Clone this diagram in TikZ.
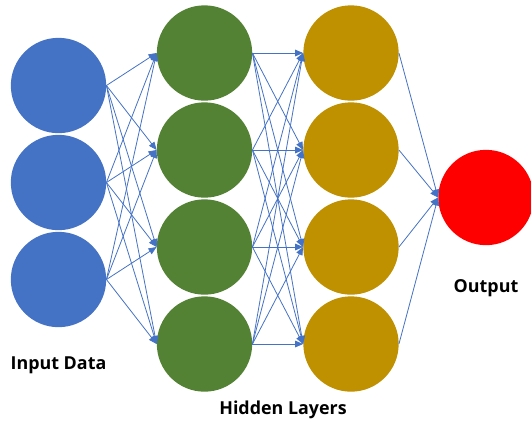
\documentclass[tikz,border=0pt]{standalone}
\usepackage{fontspec}
\setmainfont{Open Sans}
\usetikzlibrary{arrows.meta}

\definecolor{linkblue}{RGB}{68,114,196}
\definecolor{inblue}{RGB}{68,114,196}
\definecolor{hidgreen}{RGB}{84,130,53}
\definecolor{hidgold}{RGB}{191,144,0}
\definecolor{outred}{RGB}{255,0,0}

\tikzset{
  neuron/.style={circle, inner sep=0pt, minimum size=71.5pt},
  link/.style={draw=linkblue, line width=0.6pt, -{Triangle[length=6pt,width=5pt]}},
  caption/.style={font=\bfseries\fontsize{13.4}{15}\selectfont, inner sep=0.75pt}
}

\begin{document}
\begin{tikzpicture}[x=0.75pt,y=0.75pt,yscale=-1,xscale=1]
\useasboundingbox (0,0) rectangle (531,426);

% Input layer
\node [neuron, fill=inblue] (in1) at (58.5,85.5) {};
\node [neuron, fill=inblue] (in2) at (58.5,182.5) {};
\node [neuron, fill=inblue] (in3) at (58.5,279.5) {};

% Hidden layer 1
\node [neuron, fill=hidgreen] (hA1) at (204.5,53) {};
\node [neuron, fill=hidgreen] (hA2) at (204.5,150) {};
\node [neuron, fill=hidgreen] (hA3) at (204.5,247) {};
\node [neuron, fill=hidgreen] (hA4) at (204.5,344) {};

% Hidden layer 2
\node [neuron, fill=hidgold] (hB1) at (351,53) {};
\node [neuron, fill=hidgold] (hB2) at (351,150) {};
\node [neuron, fill=hidgold] (hB3) at (351,247) {};
\node [neuron, fill=hidgold] (hB4) at (351,344) {};

% Output
\node [neuron, fill=outred] (out) at (486,197.5) {};

% Links
\foreach \i in {1,2,3}
  \foreach \j in {1,2,3,4}
    \draw [link] (in\i.east) -- (hA\j.west);
\foreach \i in {1,2,3,4}
  \foreach \j in {1,2,3,4}
    \draw [link] (hA\i.east) -- (hB\j.west);
\foreach \i in {1,2,3,4}
  \draw [link] (hB\i.east) -- (out.west);

% Text Node
\node [caption] (lblin) at (58.5,365) {Input Data};
% Text Node
\node [caption] (lblhid) at (283,410) {Hidden Layers};
% Text Node
\node [caption] (lblout) at (486,288) {Output};

\end{tikzpicture}
\end{document}
